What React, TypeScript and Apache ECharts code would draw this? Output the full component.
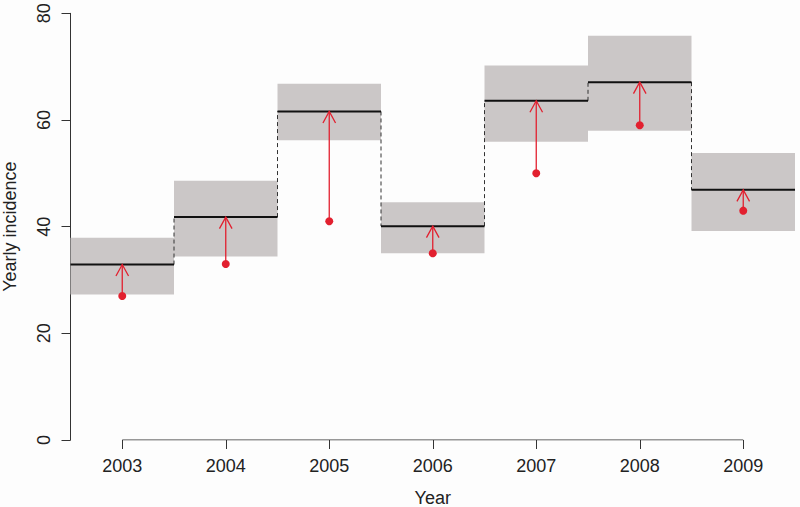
import React, { useEffect, useRef } from "react";
import * as echarts from "echarts";

const years = [2003, 2004, 2005, 2006, 2007, 2008, 2009];
const expected = [32.9, 41.8, 61.6, 40.1, 63.6, 67.1, 46.9];
const lower = [27.3, 34.4, 56.2, 35.0, 55.9, 58.0, 39.2];
const upper = [37.9, 48.6, 66.8, 44.6, 70.2, 75.8, 53.8];
const observed = [27, 33, 41, 35, 50, 59, 43];
const yTicks = [0, 20, 40, 60, 80];

const RED = "#e2202f";
const FONT = "'Liberation Sans', Arial, Helvetica, sans-serif";

export default function App() {
  const ref = useRef<HTMLDivElement>(null);
  useEffect(() => {
    const chart = echarts.init(ref.current!, null, { renderer: "svg" });
    const rows = years.map((y, i) => [y, lower[i], upper[i], expected[i], observed[i]]);
    const joins = years.slice(0, -1).map((y, i) => [y + 0.5, expected[i], expected[i + 1]]);
    chart.setOption({
      animation: false,
      backgroundColor: "#fdfdfd",
      grid: { left: 70.5, right: 5, top: 13.33, bottom: 67, containLabel: false, outerBoundsMode: "none" },
      xAxis: {
        type: "value",
        min: 2002.5,
        max: 2009.5,
        name: "Year",
        nameLocation: "middle",
        nameGap: 49,
        nameTextStyle: { fontSize: 18, color: "#222", fontFamily: FONT },
        axisLine: { show: false },
        splitLine: { show: false },
        axisTick: { show: true, customValues: years, length: 9, lineStyle: { color: "#333" } },
        axisLabel: {
          customValues: years,
          formatter: (v: number) => String(v),
          margin: 17,
          fontSize: 18,
          color: "#222",
          fontFamily: FONT,
        },
      },
      yAxis: {
        type: "value",
        min: 0,
        max: 80,
        interval: 20,
        name: "Yearly incidence",
        nameLocation: "middle",
        nameRotate: 90,
        nameGap: 52,
        nameTextStyle: { fontSize: 18, color: "#222", fontFamily: FONT },
        axisLine: { show: true, lineStyle: { color: "#333", width: 1 } },
        splitLine: { show: false },
        axisTick: { show: true, length: 9, lineStyle: { color: "#333" }, customValues: yTicks },
        axisLabel: {
          customValues: yTicks,
          rotate: 90,
          margin: 18,
          fontSize: 18,
          color: "#222",
          fontFamily: FONT,
        },
      },
      series: [
        {
          type: "custom",
          name: "interval",
          data: rows,
          silent: true,
          renderItem: (params: any, api: any) => {
            const y = api.value(0);
            const p1 = api.coord([y - 0.5, api.value(2)]);
            const p2 = api.coord([y + 0.5, api.value(1)]);
            return {
              type: "rect",
              shape: { x: p1[0], y: p1[1], width: p2[0] - p1[0], height: p2[1] - p1[1] },
              style: { fill: "#cbc7c7" },
            };
          },
        },
        {
          type: "custom",
          name: "joins",
          data: joins,
          silent: true,
          renderItem: (params: any, api: any) => {
            const a = api.coord([api.value(0), api.value(1)]);
            const b = api.coord([api.value(0), api.value(2)]);
            return {
              type: "line",
              shape: { x1: a[0], y1: a[1], x2: b[0], y2: b[1] },
              style: { stroke: "#333", lineWidth: 1, lineDash: [4, 3] },
            };
          },
        },
        {
          type: "custom",
          name: "expected",
          data: rows,
          silent: true,
          renderItem: (params: any, api: any) => {
            const y = api.value(0);
            const a = api.coord([y - 0.5, api.value(3)]);
            const b = api.coord([y + 0.5, api.value(3)]);
            return {
              type: "line",
              shape: { x1: a[0], y1: a[1], x2: b[0], y2: b[1] },
              style: { stroke: "#111", lineWidth: 2 },
            };
          },
        },
        {
          type: "custom",
          name: "arrows",
          data: rows,
          silent: true,
          renderItem: (params: any, api: any) => {
            const y = api.value(0);
            const a = api.coord([y, api.value(4)]);
            const b = api.coord([y, api.value(3)]);
            return {
              type: "group",
              children: [
                {
                  type: "line",
                  shape: { x1: a[0], y1: a[1], x2: b[0], y2: b[1] },
                  style: { stroke: RED, lineWidth: 1.3 },
                },
                {
                  type: "polyline",
                  shape: { points: [[b[0] - 6.3, b[1] + 11.5], [b[0], b[1]], [b[0] + 6.3, b[1] + 11.5]] },
                  style: { stroke: RED, lineWidth: 1.3, fill: "none" },
                },
              ],
            };
          },
        },
        {
          type: "scatter",
          name: "observed",
          data: years.map((y, i) => [y, observed[i]]),
          symbol: "circle",
          symbolSize: 8,
          itemStyle: { color: RED, opacity: 1 },
          silent: true,
        },
        {
          type: "line",
          name: "xaxis",
          data: [[years[0], 0], [years[years.length - 1], 0]],
          symbol: "none",
          lineStyle: { color: "#333", width: 1 },
          silent: true,
        },
      ],
    });
    return () => chart.dispose();
  }, []);
  return (
    <div
      ref={ref}
      style={{ position: "absolute", left: 0, top: 0, width: 800, height: 507 }}
    />
  );
}
